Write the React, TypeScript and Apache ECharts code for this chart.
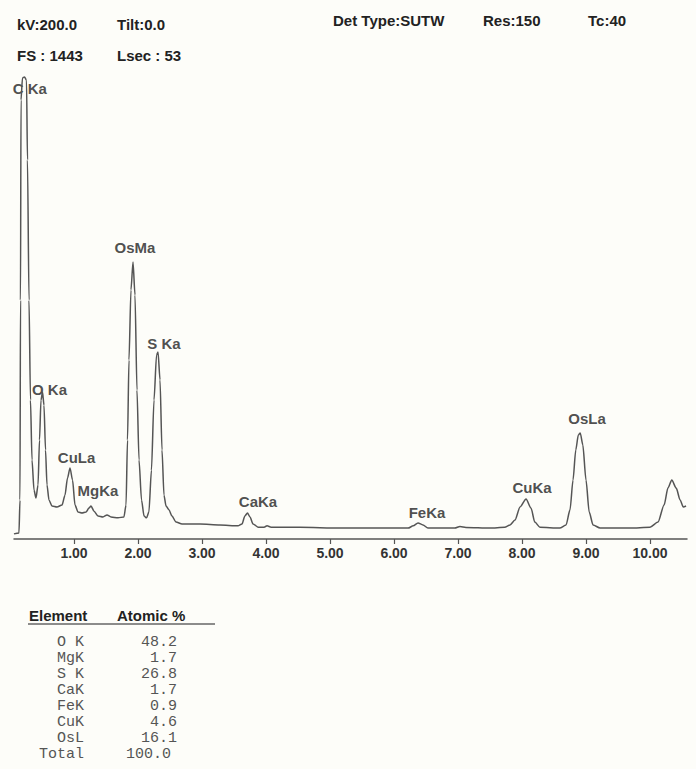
import React, { useEffect, useRef } from 'react';
import * as echarts from 'echarts';

// ---- Spectrum data (energy in keV, counts) ----
const energyKeV = [
  0.062, 0.14, 0.156, 0.164, 0.172, 0.195, 0.227, 0.258, 0.273, 0.297,
  0.32, 0.344, 0.375, 0.406, 0.438, 0.461, 0.484, 0.508, 0.531, 0.555,
  0.578, 0.609, 0.656, 0.734, 0.813, 0.859, 0.898, 0.938, 0.977, 1.016,
  1.063, 1.125, 1.188, 1.234, 1.266, 1.313, 1.375, 1.453, 1.516, 1.578,
  1.688, 1.78, 1.813, 1.836, 1.859, 1.89, 1.922, 1.953, 1.984, 2.016,
  2.055, 2.094, 2.133, 2.17, 2.21, 2.25, 2.29, 2.313, 2.344, 2.375,
  2.406, 2.438, 2.484, 2.53, 2.594, 2.688, 2.97, 3.28, 3.563, 3.625,
  3.67, 3.71, 3.75, 3.797, 3.875, 3.97, 4.016, 4.08, 4.53, 5.156,
  5.78, 6.22, 6.3, 6.375, 6.453, 6.53, 6.95, 7.03, 7.125, 7.5,
  7.73, 7.813, 7.89, 7.97, 8.063, 8.14, 8.2, 8.28, 8.59, 8.688,
  8.75, 8.797, 8.84, 8.88, 8.91, 8.95, 9.0, 9.05, 9.11, 9.22,
  9.688, 10.0, 10.125, 10.22, 10.28, 10.34, 10.41, 10.47, 10.52, 10.563,
];
const counts = [
  16, 19, 122, 746, 1371, 1440, 1443, 1433, 1184, 746,
  434, 247, 153, 128, 169, 309, 434, 459, 418, 278,
  169, 122, 103, 100, 106, 137, 190, 222, 184, 106,
  84, 81, 84, 97, 103, 87, 72, 69, 75, 69,
  66, 69, 106, 309, 559, 778, 865, 762, 465, 247,
  122, 72, 66, 84, 215, 434, 575, 584, 497, 278,
  137, 103, 91, 72, 53, 47, 47, 44, 41, 47,
  72, 81, 69, 47, 37, 37, 41, 37, 37, 34,
  34, 34, 41, 50, 44, 34, 34, 39, 36, 34,
  37, 44, 59, 100, 125, 97, 53, 37, 34, 44,
  91, 184, 278, 325, 331, 294, 184, 84, 44, 34,
  34, 37, 53, 106, 159, 184, 159, 122, 100, 103,
];

const tickValues = [1, 2, 3, 4, 5, 6, 7, 8, 9, 10];
const fullScale = 1443;
const energyMin = 0.0625;
const energyMax = 10.578;

// ---- Peak labels (name, energy, count level of label) ----
const peakNames = ['C Ka', 'O Ka', 'CuLa', 'MgKa', 'OsMa', 'S Ka', 'CaKa', 'FeKa', 'CuKa', 'OsLa'];
const peakLabelEnergy = [0.31, 0.617, 1.04, 1.375, 1.953, 2.406, 3.875, 6.516, 8.156, 9.016];
const peakLabelCounts = [1408, 468, 256, 150, 909, 612, 116, 84, 162, 375];

// ---- Header info ----
const headerRow1 = ['kV:200.0', 'Tilt:0.0', 'Det Type:SUTW', 'Res:150', 'Tc:40'];
const headerRow2 = ['FS : 1443', 'Lsec : 53'];

// ---- Table ----
const tableHeaders = ['Element', 'Atomic %'];
const tableElements = ['O K', 'MgK', 'S K', 'CaK', 'FeK', 'CuK', 'OsL'];
const tableAtomicPct = ['48.2', '1.7', '26.8', '1.7', '0.9', '4.6', '16.1'];
const tableTotalLabel = 'Total';
const tableTotal = '100.0';

const SANS = '"Liberation Sans", Arial, Helvetica, sans-serif';
const MONO = '"Liberation Mono", "Courier New", monospace';

function buildOption(): any {
  const headerX1 = [17, 117, 333, 483, 588];
  const headerY1 = [24, 24, 20, 20, 20];
  const headerX2 = [17, 117];
  const graphics: any[] = [];
  headerRow1.forEach((t, i) => {
    graphics.push({
      type: 'text', x: headerX1[i], y: headerY1[i],
      style: { text: t, font: `bold 15px ${SANS}`, fill: '#222', verticalAlign: 'middle', align: 'left' },
    });
  });
  headerRow2.forEach((t, i) => {
    graphics.push({
      type: 'text', x: headerX2[i], y: 55,
      style: { text: t, font: `bold 15px ${SANS}`, fill: '#222', verticalAlign: 'middle', align: 'left' },
    });
  });
  // table
  graphics.push({
    type: 'text', x: 29, y: 615,
    style: { text: tableHeaders[0], font: `bold 15px ${SANS}`, fill: '#222', verticalAlign: 'middle', align: 'left' },
  });
  graphics.push({
    type: 'text', x: 117, y: 615,
    style: { text: tableHeaders[1], font: `bold 15px ${SANS}`, fill: '#222', verticalAlign: 'middle', align: 'left' },
  });
  graphics.push({
    type: 'line', shape: { x1: 28, y1: 624, x2: 215, y2: 624 },
    style: { stroke: '#666', lineWidth: 1.5 },
  });
  const rowY0 = 642;
  const rowStep = 16;
  tableElements.forEach((el, i) => {
    graphics.push({
      type: 'text', x: 84, y: rowY0 + i * rowStep,
      style: { text: el, font: `15px ${MONO}`, fill: '#555', verticalAlign: 'middle', align: 'right' },
    });
    graphics.push({
      type: 'text', x: 177, y: rowY0 + i * rowStep,
      style: { text: tableAtomicPct[i], font: `15px ${MONO}`, fill: '#555', verticalAlign: 'middle', align: 'right' },
    });
  });
  const totalY = rowY0 + tableElements.length * rowStep;
  graphics.push({
    type: 'text', x: 84, y: totalY,
    style: { text: tableTotalLabel, font: `15px ${MONO}`, fill: '#555', verticalAlign: 'middle', align: 'right' },
  });
  graphics.push({
    type: 'text', x: 171, y: totalY,
    style: { text: tableTotal, font: `15px ${MONO}`, fill: '#555', verticalAlign: 'middle', align: 'right' },
  });

  return {
    animation: false,
    backgroundColor: '#fdfdf9',
    grid: { left: 14, right: 9, top: 77, bottom: 230, containLabel: false },
    xAxis: {
      type: 'value',
      min: energyMin,
      max: energyMax,
      axisLine: { show: true, onZero: false, lineStyle: { color: '#555', width: 1.5 } },
      axisTick: { show: true, length: 5, customValues: tickValues, lineStyle: { color: '#555', width: 1.2 } },
      axisLabel: {
        show: true,
        customValues: tickValues,
        margin: 7,
        formatter: (v: number) => v.toFixed(2),
        fontFamily: SANS,
        fontWeight: 'bold',
        fontSize: 14,
        color: '#333',
      },
      splitLine: { show: false },
    },
    yAxis: {
      type: 'value',
      min: 0,
      max: fullScale,
      show: false,
      splitLine: { show: false },
    },
    series: [
      {
        type: 'line',
        data: energyKeV.map((e, i) => [e, counts[i]]),
        showSymbol: false,
        symbol: 'none',
        smooth: 0.25,
        smoothMonotone: 'x',
        clip: false,
        lineStyle: { color: '#555', width: 1.5 },
        silent: true,
      },
      {
        type: 'scatter',
        data: peakNames.map((n, i) => ({ name: n, value: [peakLabelEnergy[i], peakLabelCounts[i]] })),
        symbolSize: 1,
        itemStyle: { color: 'rgba(0,0,0,0)' },
        clip: false,
        silent: true,
        label: {
          show: true,
          position: 'inside',
          formatter: (p: any) => p.name,
          fontFamily: SANS,
          fontWeight: 'bold',
          fontSize: 15,
          color: '#222',
          textBorderWidth: 0,
        },
      },
    ],
    graphic: graphics,
  };
}

export default function App() {
  const ref = useRef<HTMLDivElement>(null);
  useEffect(() => {
    if (!ref.current) return;
    const chart = echarts.init(ref.current, null, { renderer: 'svg' });
    chart.setOption(buildOption());
    return () => chart.dispose();
  }, []);
  return (
    <div
      ref={ref}
      style={{ position: 'fixed', left: 0, top: 0, width: 696, height: 769, background: '#fdfdf9' }}
    />
  );
}
